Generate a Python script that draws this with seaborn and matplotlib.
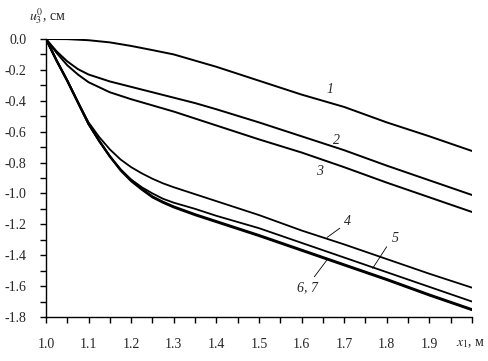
import numpy as np
import pandas as pd
import matplotlib
matplotlib.use("Agg")
import matplotlib.pyplot as plt
import seaborn as sns

# values
x1 = [1.0, 1.05, 1.1, 1.15, 1.2, 1.25, 1.3, 1.35, 1.4, 1.5, 1.6, 1.7, 1.8, 1.9, 2.0]
u1 = [0.0, -0.001, -0.008, -0.022, -0.045, -0.072, -0.10, -0.14, -0.18, -0.27, -0.36, -0.44, -0.54, -0.63, -0.725]

x23 = [1.0, 1.025, 1.05, 1.075, 1.1, 1.15, 1.2, 1.25, 1.3, 1.35, 1.4, 1.5, 1.6, 1.7, 1.8, 1.9, 2.0]
u2 = [0.0, -0.08, -0.145, -0.195, -0.23, -0.275, -0.31, -0.345, -0.38, -0.415, -0.455, -0.54, -0.63, -0.72,
      -0.82, -0.915, -1.01]
u3 = [0.0, -0.09, -0.17, -0.23, -0.28, -0.345, -0.39, -0.43, -0.47, -0.515, -0.56, -0.65, -0.735, -0.83,
      -0.93, -1.025, -1.12]

x47 = [1.0, 1.025, 1.05, 1.075, 1.1, 1.125, 1.15, 1.175, 1.2, 1.225, 1.25, 1.275, 1.3, 1.35, 1.4,
       1.5, 1.6, 1.7, 1.8, 1.9, 2.0]
u4 = [0.0, -0.14, -0.27, -0.41, -0.54, -0.635, -0.715, -0.78, -0.83, -0.87, -0.905, -0.935, -0.96, -1.005, -1.05,
      -1.14, -1.24, -1.33, -1.425, -1.52, -1.61]
u5 = [0.0, -0.14, -0.27, -0.41, -0.55, -0.66, -0.76, -0.845, -0.91, -0.96, -1.0, -1.035, -1.06, -1.10, -1.145,
      -1.225, -1.32, -1.415, -1.51, -1.605, -1.70]
u6 = [0.0, -0.14, -0.27, -0.41, -0.55, -0.66, -0.76, -0.845, -0.915, -0.97, -1.02, -1.055, -1.085, -1.135, -1.18,
      -1.27, -1.365, -1.46, -1.555, -1.655, -1.75]
u7 = [0.0, -0.14, -0.27, -0.41, -0.55, -0.66, -0.76, -0.85, -0.92, -0.975, -1.025, -1.06, -1.09, -1.14, -1.185,
      -1.275, -1.37, -1.465, -1.56, -1.66, -1.755]

xticks = [1.0, 1.1, 1.2, 1.3, 1.4, 1.5, 1.6, 1.7, 1.8, 1.9, 2.0]
xlabels = ["1.0", "1.1", "1.2", "1.3", "1.4", "1.5", "1.6", "1.7", "1.8", "1.9", ""]
yticks = [0.0, -0.2, -0.4, -0.6, -0.8, -1.0, -1.2, -1.4, -1.6, -1.8]
ylabels = ["0.0", "-0.2", "-0.4", "-0.6", "-0.8", "-1.0", "-1.2", "-1.4", "-1.6", "-1.8"]

sns.set_style("ticks")
plt.rcParams["font.family"] = ["Liberation Serif", "DejaVu Serif"]
plt.rcParams["mathtext.fontset"] = "stix"
plt.rcParams["axes.unicode_minus"] = False

fig = plt.figure(figsize=(4.89, 3.61), dpi=100)
ax = fig.add_axes([0.094, 0.122, 0.871, 0.770])

curves = [(x1, u1, 1.4), (x23, u2, 1.4), (x23, u3, 1.4), (x47, u4, 1.3),
          (x47, u5, 1.3), (x47, u6, 1.6), (x47, u7, 1.6)]
for xs, us, lw in curves:
    sns.lineplot(x=xs, y=us, color="black", linewidth=lw, ax=ax)

ax.set_xlim(1.0, 2.0)
ax.set_ylim(-1.8, 0.0)
ax.set_xticks(xticks)
ax.set_xticklabels(xlabels)
ax.set_xticks(np.arange(1.05, 2.0, 0.1), minor=True)
ax.set_yticks(yticks)
ax.set_yticklabels(ylabels)
ax.set_yticks(np.arange(-1.7, 0.0, 0.2), minor=True)
ax.tick_params(which="both", direction="out", length=4, width=1, color="black")
ax.tick_params(axis="x", which="major", pad=11, labelsize=10)
ax.tick_params(axis="y", which="major", pad=10, labelsize=10)
for s in ["top", "right"]:
    ax.spines[s].set_visible(False)
for s in ["left", "bottom"]:
    ax.spines[s].set_color("black")
    ax.spines[s].set_linewidth(1)
ax.set_xlabel("")
ax.set_ylabel("")

fig.text(0.06, 0.955, r"$u_3^0$, см", fontsize=10, ha="left", va="center")
fig.text(0.932, 0.048, r"$x_1$, м", fontsize=10, ha="left", va="center")

# curve numbers
lab = dict(fontsize=10, style="italic", ha="center", va="center")
ax.text(1.666, -0.33, "1", **lab)
ax.text(1.682, -0.655, "2", **lab)
ax.text(1.643, -0.86, "3", **lab)
ax.text(1.707, -1.18, "4", **lab)
ax.text(1.82, -1.29, "5", **lab)
ax.text(1.615, -1.61, "6, 7", **lab)
ax.plot([1.66, 1.69], [-1.285, -1.225], color="black", lw=0.6)
ax.plot([1.767, 1.8], [-1.485, -1.345], color="black", lw=0.6)
ax.plot([1.63, 1.66], [-1.54, -1.43], color="black", lw=0.6)

fig.savefig("out.png", dpi=100)
